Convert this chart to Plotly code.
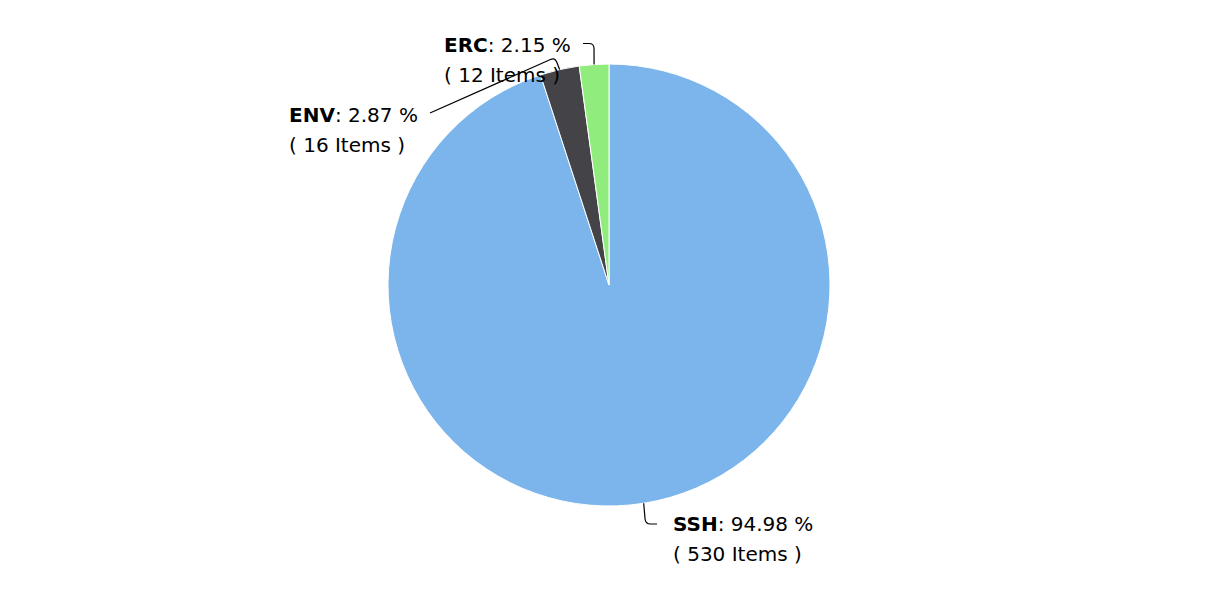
import math
import plotly.graph_objects as go

# ---- data ----
categories = ["SSH", "ENV", "ERC"]
items = [530, 16, 12]
percent_labels = ["94.98 %", "2.87 %", "2.15 %"]
colors = ["#7cb5ec", "#434348", "#90ed7d"]

# ---- layout constants (screen pixels) ----
W, H = 1227, 600
OFF = 8  # page body margin
CX, CY, R = 609, 285, 221
FONT = "DejaVu Sans"
FS = 20
LINE_GAP = 30
# label left x, first-line y (cap centre), connector corner, connector end
label_style = {
    "SSH": dict(x=671, y=524, corner=(645.5, 524), end=(657, 524)),
    "ENV": dict(x=287, y=115, corner=(555, 57.5), end=(430, 113)),
    "ERC": dict(x=442, y=45, corner=(594, 43.5), end=(583, 43.5)),
}


def px(x, y):
    return (x - OFF) / W, 1 - (y - OFF) / H


fig = go.Figure(go.Pie(
    labels=categories,
    values=items,
    sort=False,
    direction="clockwise",
    rotation=0,
    marker=dict(colors=colors, line=dict(color="#ffffff", width=1)),
    textinfo="none",
    hoverinfo="label+value+percent",
    showlegend=False,
    domain=dict(x=[(CX - R - OFF) / W, (CX + R - OFF) / W],
                y=[1 - (CY + R - OFF) / H, 1 - (CY - R - OFF) / H]),
))

total = sum(items)
cum = 0
annotations = []
shapes = []


def toward(ax, ay, bx, by, dist):
    L = math.hypot(bx - ax, by - ay)
    if L == 0:
        return ax, ay
    return ax + (bx - ax) * dist / L, ay + (by - ay) * dist / L


for cat, val, pct in zip(categories, items, percent_labels):
    mid = (cum + val / 2) / total
    cum += val
    th = 2 * math.pi * mid
    ex, ey = CX + R * math.sin(th), CY - R * math.cos(th)
    st = label_style[cat]
    cx_, cy_ = st["corner"]
    nx, ny = st["end"]
    d = 5
    p1 = toward(cx_, cy_, ex, ey, d)
    p2 = toward(cx_, cy_, nx, ny, d)
    pts = [px(ex, ey), px(*p1), px(cx_, cy_), px(*p2), px(nx, ny)]
    path = "M {0[0]},{0[1]} L {1[0]},{1[1]} Q {2[0]},{2[1]} {3[0]},{3[1]} L {4[0]},{4[1]}".format(*pts)
    shapes.append(dict(type="path", xref="paper", yref="paper", path=path,
                       line=dict(color="#000000", width=1.2)))

    lx, ly = px(st["x"], st["y"])
    annotations.append(dict(x=lx, y=ly, xref="paper", yref="paper", xanchor="left", yanchor="middle",
                            text=f"<b>{cat}</b>: {pct}", showarrow=False,
                            font=dict(family=FONT, size=FS, color="#000000")))
    lx2, ly2 = px(st["x"], st["y"] + LINE_GAP)
    annotations.append(dict(x=lx2, y=ly2, xref="paper", yref="paper", xanchor="left", yanchor="middle",
                            text=f"( {val} Items )", showarrow=False,
                            font=dict(family=FONT, size=FS, color="#000000")))

fig.update_layout(
    width=W, height=H,
    margin=dict(l=0, r=0, t=0, b=0),
    paper_bgcolor="#ffffff",
    plot_bgcolor="#ffffff",
    annotations=annotations,
    shapes=shapes,
)

fig.write_html("out.html")
